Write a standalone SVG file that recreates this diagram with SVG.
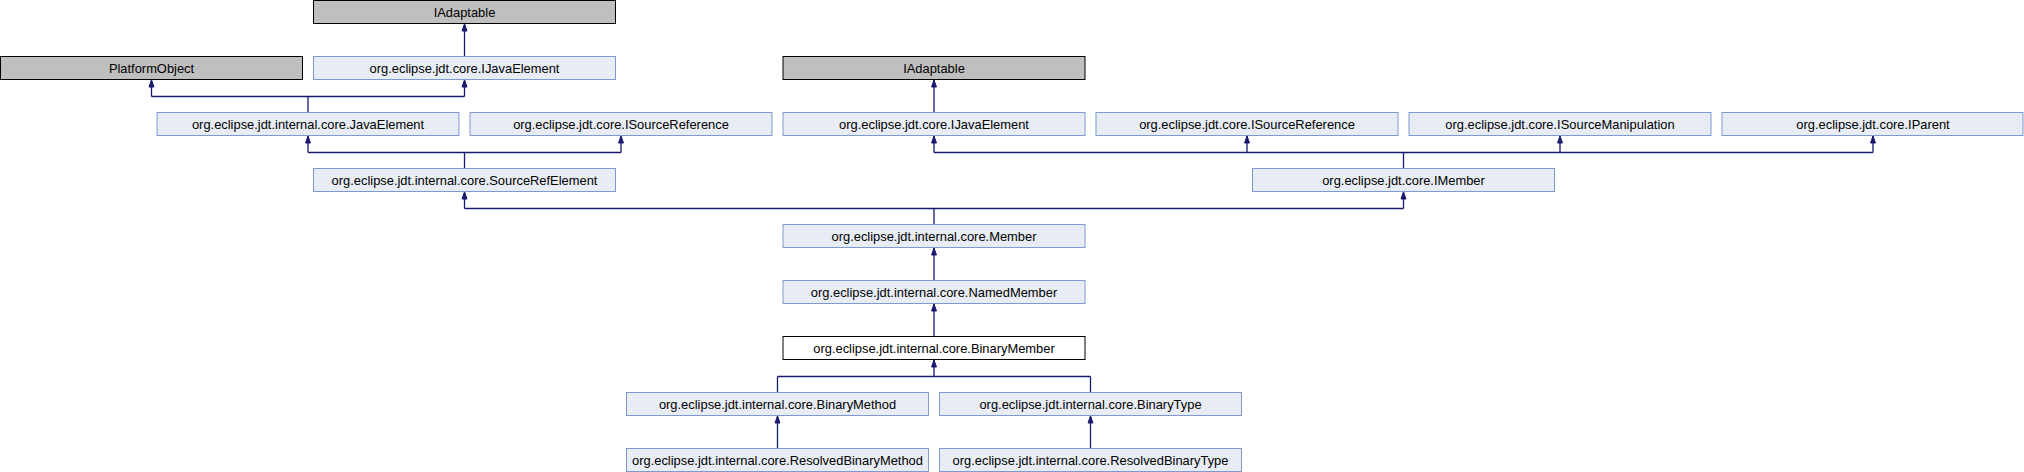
<svg xmlns="http://www.w3.org/2000/svg" width="2024" height="472" viewBox="0 0 2024 472">
<style>
.n rect{fill:#e8ecf5;stroke:#7f9ad0;stroke-width:1}
.ext rect{fill:#bfbfbf;stroke:#000;stroke-width:1}
.cur rect{fill:#fff;stroke:#000;stroke-width:1}
text{font-family:"Liberation Sans",Arial,sans-serif;font-size:12.9px;fill:#000;text-anchor:middle}
.e path{fill:none;stroke:#191970;stroke-width:1.3}
.e polygon{fill:#191970;stroke:#191970;stroke-width:1}
</style>
<rect width="2024" height="472" fill="#fff"/>
<g class="e" id="connectors">
<path d="M464.5,56V23"/><polygon points="464.5,24 462,31 467,31"/>
<path d="M308,112V96.5M151.5,96.5H464.5M151.5,96.5V79M464.5,96.5V79"/>
<polygon points="151.5,80 149,87 154,87"/><polygon points="464.5,80 462,87 467,87"/>
<path d="M934,112V79"/><polygon points="934,80 931.5,87 936.5,87"/>
<path d="M464.5,168V152.5M308,152.5H621M308,152.5V135M621,152.5V135"/>
<polygon points="308,136 305.5,143 310.5,143"/><polygon points="621,136 618.5,143 623.5,143"/>
<path d="M1403.5,168V152.5M934,152.5H1873M934,152.5V135M1247,152.5V135M1560,152.5V135M1873,152.5V135"/>
<polygon points="934,136 931.5,143 936.5,143"/><polygon points="1247,136 1244.5,143 1249.5,143"/><polygon points="1560,136 1557.5,143 1562.5,143"/><polygon points="1873,136 1870.5,143 1875.5,143"/>
<path d="M934,224V208.5M464.5,208.5H1403.5M464.5,208.5V191M1403.5,208.5V191"/>
<polygon points="464.5,192 462,199 467,199"/><polygon points="1403.5,192 1401,199 1406,199"/>
<path d="M934,280V247"/><polygon points="934,248 931.5,255 936.5,255"/>
<path d="M934,336V303"/><polygon points="934,304 931.5,311 936.5,311"/>
<path d="M777.5,392V376.5M1090.5,392V376.5M777.5,376.5H1090.5M934,376.5V359"/><polygon points="934,360 931.5,367 936.5,367"/>
<path d="M777.5,448V415"/><polygon points="777.5,416 775,423 780,423"/>
<path d="M1090.5,448V415"/><polygon points="1090.5,416 1088,423 1093,423"/>
</g>
<g id="IAdaptable1" class="ext"><rect x="313.5" y="0.5" width="302" height="23"/><text x="464.5" y="16.5">IAdaptable</text></g>
<g id="PlatformObject" class="ext"><rect x="0.5" y="56.5" width="302" height="23"/><text x="151.5" y="72.5">PlatformObject</text></g>
<g id="IJavaElement1" class="n"><rect x="313.5" y="56.5" width="302" height="23"/><text x="464.5" y="72.5">org.eclipse.jdt.core.IJavaElement</text></g>
<g id="IAdaptable2" class="ext"><rect x="783" y="56.5" width="302" height="23"/><text x="934" y="72.5">IAdaptable</text></g>
<g id="JavaElement" class="n"><rect x="157" y="112.5" width="302" height="23"/><text x="308" y="128.5">org.eclipse.jdt.internal.core.JavaElement</text></g>
<g id="ISourceReference1" class="n"><rect x="470" y="112.5" width="302" height="23"/><text x="621" y="128.5">org.eclipse.jdt.core.ISourceReference</text></g>
<g id="IJavaElement2" class="n"><rect x="783" y="112.5" width="302" height="23"/><text x="934" y="128.5">org.eclipse.jdt.core.IJavaElement</text></g>
<g id="ISourceReference2" class="n"><rect x="1096" y="112.5" width="302" height="23"/><text x="1247" y="128.5">org.eclipse.jdt.core.ISourceReference</text></g>
<g id="ISourceManipulation" class="n"><rect x="1409" y="112.5" width="302" height="23"/><text x="1560" y="128.5">org.eclipse.jdt.core.ISourceManipulation</text></g>
<g id="IParent" class="n"><rect x="1722" y="112.5" width="301" height="23"/><text x="1873" y="128.5">org.eclipse.jdt.core.IParent</text></g>
<g id="SourceRefElement" class="n"><rect x="313.5" y="168.5" width="302" height="23"/><text x="464.5" y="184.5">org.eclipse.jdt.internal.core.SourceRefElement</text></g>
<g id="IMember" class="n"><rect x="1252.5" y="168.5" width="302" height="23"/><text x="1403.5" y="184.5">org.eclipse.jdt.core.IMember</text></g>
<g id="Member" class="n"><rect x="783" y="224.5" width="302" height="23"/><text x="934" y="240.5">org.eclipse.jdt.internal.core.Member</text></g>
<g id="NamedMember" class="n"><rect x="783" y="280.5" width="302" height="23"/><text x="934" y="296.5">org.eclipse.jdt.internal.core.NamedMember</text></g>
<g id="BinaryMember" class="cur"><rect x="783" y="336.5" width="302" height="23"/><text x="934" y="352.5">org.eclipse.jdt.internal.core.BinaryMember</text></g>
<g id="BinaryMethod" class="n"><rect x="626.5" y="392.5" width="302" height="23"/><text x="777.5" y="408.5">org.eclipse.jdt.internal.core.BinaryMethod</text></g>
<g id="BinaryType" class="n"><rect x="939.5" y="392.5" width="302" height="23"/><text x="1090.5" y="408.5">org.eclipse.jdt.internal.core.BinaryType</text></g>
<g id="ResolvedBinaryMethod" class="n"><rect x="626.5" y="448.5" width="302" height="23"/><text x="777.5" y="464.5">org.eclipse.jdt.internal.core.ResolvedBinaryMethod</text></g>
<g id="ResolvedBinaryType" class="n"><rect x="939.5" y="448.5" width="302" height="23"/><text x="1090.5" y="464.5">org.eclipse.jdt.internal.core.ResolvedBinaryType</text></g>
</svg>
